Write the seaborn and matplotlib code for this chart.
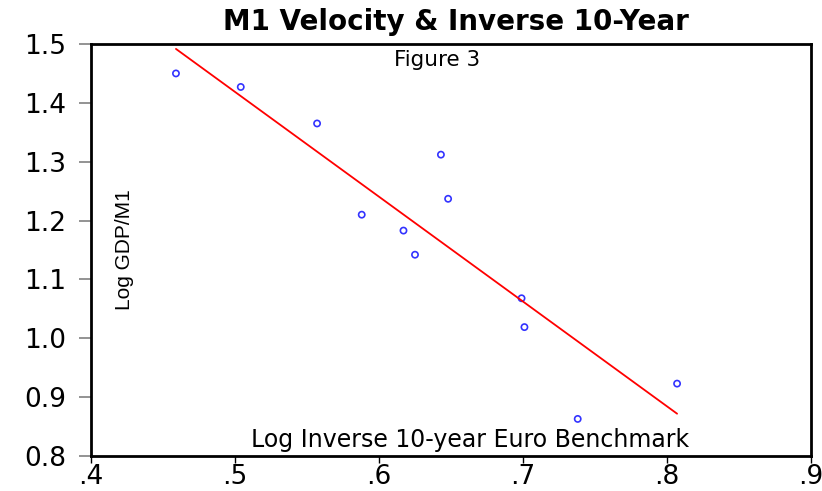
import matplotlib
matplotlib.use("Agg")
import matplotlib.pyplot as plt
import seaborn as sns
import pandas as pd

# values
inv_10yr = [0.459, 0.504, 0.557, 0.588, 0.617, 0.625, 0.643, 0.648, 0.699, 0.701, 0.738, 0.807]
log_vel = [1.450, 1.427, 1.365, 1.210, 1.183, 1.142, 1.312, 1.237, 1.068, 1.019, 0.863, 0.923]
x_ticks = [0.4, 0.5, 0.6, 0.7, 0.8, 0.9]
x_labels = [".4", ".5", ".6", ".7", ".8", ".9"]
y_ticks = [0.8, 0.9, 1.0, 1.1, 1.2, 1.3, 1.4, 1.5]

df = pd.DataFrame({"x": inv_10yr, "y": log_vel})

sns.set_style("white", {"text.color": "black", "axes.labelcolor": "black"})
plt.rcParams["font.family"] = ["DejaVu Sans"]

fig = plt.figure(figsize=(8.22, 4.91), dpi=100)
ax = fig.add_axes([91 / 822, 1 - 456 / 491, 720 / 822, 412 / 491])

sns.regplot(x="x", y="y", data=df, ci=None, truncate=True, ax=ax,
            scatter_kws={"s": 20, "facecolors": "none", "edgecolors": "blue", "linewidths": 1.2},
            line_kws={"color": "red", "linewidth": 1.3})

ax.set_xlim(0.4, 0.9)
ax.set_ylim(0.8, 1.5)
ax.set_xticks(x_ticks)
ax.set_xticklabels(x_labels)
ax.set_yticks(y_ticks)
ax.set_yticklabels(["%.1f" % v for v in y_ticks])
ax.tick_params(axis="y", labelsize=19, length=9, width=1.2, color="#808080",
               labelcolor="black", left=True, direction="out", pad=9)
ax.tick_params(axis="x", labelsize=19, length=5, width=1, color="black",
               labelcolor="black", bottom=True, direction="out", pad=1)
ax.set_xlabel("")
ax.set_ylabel("")
for s in ax.spines.values():
    s.set_color("black")
    s.set_linewidth(2)

fig.text(456 / 822, 1 - 30 / 491, "M1 Velocity & Inverse 10-Year", ha="center",
         va="baseline", fontsize=20, fontweight="bold", color="black")
ax.text(0.481, 0.985, "Figure 3", transform=ax.transAxes, ha="center", va="top",
        fontsize=15.5, color="black")
ax.text(0.526, 0.022, "Log Inverse 10-year Euro Benchmark", transform=ax.transAxes,
        ha="center", va="baseline", fontsize=17, color="black")
ax.text(0.047, 0.5, "Log GDP/M1", transform=ax.transAxes, rotation=90, ha="center",
        va="center", fontsize=15, color="black",
        family=["Liberation Sans Narrow", "Liberation Sans", "DejaVu Sans"])

fig.savefig("out.png", dpi=100)
